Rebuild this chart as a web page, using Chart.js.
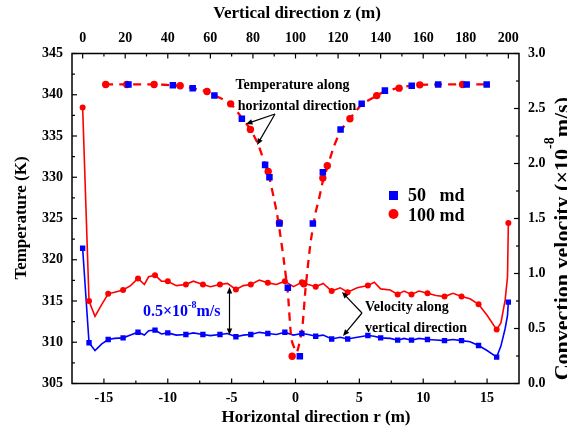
<!DOCTYPE html>
<html>
<head>
<meta charset="utf-8">
<script src="https://cdn.jsdelivr.net/npm/chart.js@4.4.0/dist/chart.umd.min.js"></script>
<style>
  html, body { margin: 0; padding: 0; background: #fff; }
  canvas { display: block; }
</style>
</head>
<body>
<canvas id="chart" width="567" height="433"></canvas>
<script>
// temperature along the horizontal direction (bottom / left axes)
const rTemp100 = [-14.86, -13.21, -11.07, -9.03, -6.93, -5.08, -3.53, -2.14, -1.26, -0.26, 0.65, 2.14, 2.49, 4.26, 6.36, 8.11, 9.73, 13.08];
const tTemp100 = [341.25, 341.25, 341.25, 341.1, 340.4, 338.9, 335.8, 330.7, 324.5, 308.3, 317.1, 329.9, 331.4, 337.1, 339.9, 340.8, 341.2, 341.25];
const rTemp50 = [-13.08, -9.6, -8.05, -6.35, -4.2, -2.38, -2.04, -1.26, -0.6, 0.34, 1.36, 2.14, 3.53, 5.18, 7.0, 9.1, 11.17, 13.4, 14.97];
const tTemp50 = [341.25, 341.15, 340.8, 339.9, 337.1, 331.5, 330.0, 324.4, 316.6, 308.3, 324.4, 330.6, 335.8, 338.9, 340.5, 341.1, 341.25, 341.25, 341.25];

// dashed temperature profile
const rCurve = [-14.9, -13, -11, -9.6, -8.5, -8.05, -6.93, -6.35, -5.08, -4.2, -3.53, -2.9, -2.4, -2.1, -1.7, -1.44, -1.18, -0.92, -0.6, -0.31, 0.1, 0.53, 0.78, 1.18, 1.57, 1.83, 2.14, 2.49, 3.0, 3.53, 4.26, 5.18, 6.36, 7.0, 8.11, 9.1, 9.73, 11.2, 13, 15];
const tCurve = [341.25, 341.25, 341.25, 341.15, 340.95, 340.8, 340.4, 339.95, 338.9, 337.2, 335.8, 333.9, 331.6, 330.3, 327.5, 325.5, 322.9, 320.0, 316.0, 310.3, 308.8, 311.8, 316.4, 322.1, 325.7, 327.3, 329.5, 331.2, 333.7, 335.6, 337.1, 338.8, 339.9, 340.4, 340.85, 341.1, 341.2, 341.25, 341.25, 341.25];

// convection velocity along the vertical direction (top / right axes)
const zLine = [0, 3, 5.8, 9, 12, 15, 19, 22.5, 26, 29, 31, 34, 37, 40, 44, 48.5, 52, 56.5, 60, 64.5, 68, 72, 75.5, 79, 83, 87, 91, 95, 99, 103, 106, 109.5, 113, 117, 121, 124.5, 129, 134, 137, 140, 144.5, 148, 151, 154.5, 158, 162, 166, 170, 174, 178, 182, 186, 190, 194.5, 196.5, 198.5, 199.6, 200];
const vLine100 = [2.51, 0.75, 0.61, 0.72, 0.815, 0.83, 0.85, 0.89, 0.955, 0.9, 0.97, 0.985, 0.93, 0.93, 0.89, 0.9, 0.93, 0.9, 0.88, 0.9, 0.91, 0.855, 0.89, 0.9, 0.94, 0.915, 0.9, 0.93, 0.88, 0.92, 0.9, 0.88, 0.91, 0.84, 0.87, 0.83, 0.87, 0.89, 0.92, 0.86, 0.85, 0.81, 0.84, 0.81, 0.84, 0.82, 0.8, 0.79, 0.82, 0.79, 0.77, 0.72, 0.62, 0.49, 0.55, 0.76, 0.97, 1.46];
const vLine50 = [1.23, 0.37, 0.3, 0.36, 0.4, 0.41, 0.415, 0.44, 0.466, 0.44, 0.48, 0.485, 0.45, 0.46, 0.44, 0.445, 0.46, 0.445, 0.435, 0.445, 0.455, 0.425, 0.44, 0.445, 0.465, 0.455, 0.445, 0.466, 0.44, 0.455, 0.445, 0.43, 0.44, 0.405, 0.42, 0.405, 0.42, 0.436, 0.43, 0.415, 0.41, 0.394, 0.41, 0.394, 0.41, 0.4, 0.395, 0.39, 0.4, 0.39, 0.38, 0.345, 0.3, 0.24, 0.34, 0.5, 0.62, 0.74];

const zMark100 = [0, 3, 12, 19, 26, 34, 40, 48.5, 56.5, 64.5, 72, 79, 87, 95, 103, 109.5, 117, 124.5, 134, 148, 154.5, 162, 170, 178, 186, 194.5, 200];
const vMark100 = [2.51, 0.75, 0.815, 0.85, 0.955, 0.985, 0.93, 0.9, 0.9, 0.9, 0.855, 0.9, 0.915, 0.93, 0.92, 0.88, 0.84, 0.83, 0.89, 0.81, 0.81, 0.82, 0.79, 0.79, 0.72, 0.49, 1.46];
const zMark50 = [0, 3, 12, 19, 26, 34, 40, 48.5, 56.5, 64.5, 72, 79, 87, 95, 103, 109.5, 117, 124.5, 134, 140, 148, 154.5, 162, 170, 178, 186, 194.5, 200];
const vMark50 = [1.23, 0.37, 0.4, 0.415, 0.466, 0.485, 0.46, 0.445, 0.445, 0.445, 0.425, 0.445, 0.455, 0.466, 0.455, 0.43, 0.405, 0.405, 0.436, 0.415, 0.394, 0.394, 0.4, 0.39, 0.39, 0.345, 0.24, 0.74];

// tick labels
const rTicks = [-15, -10, -5, 0, 5, 10, 15];
const zTicks = [0, 20, 40, 60, 80, 100, 120, 140, 160, 180, 200];
const tTicks = [305, 310, 315, 320, 325, 330, 335, 340, 345];
const vTicks = [0, 0.5, 1.0, 1.5, 2.0, 2.5, 3.0];

const RED = 'rgb(255,0,0)';
const BLUE = 'rgb(0,0,255)';
const SERIF = '"Liberation Serif", "Times New Roman", serif';

const pts = (xs, ys) => xs.map((x, i) => ({ x: x, y: ys[i] }));

function axis(position, min, max, ticks, size, pad, fmt) {
  const horiz = position === 'top' || position === 'bottom';
  return {
    type: 'linear',
    axis: horiz ? 'x' : 'y',
    position: position,
    min: min,
    max: max,
    grid: { display: false, drawTicks: false },
    border: { display: false },
    afterBuildTicks: s => { s.ticks = ticks.map(v => ({ value: v })); },
    afterFit: s => { if (horiz) s.height = size; else s.width = size; },
    ticks: {
      padding: pad,
      color: '#000',
      font: { family: SERIF, size: 14, weight: 'bold' },
      callback: fmt || (v => v)
    }
  };
}

function arrow(ctx, x1, y1, x2, y2, head) {
  const a = Math.atan2(y2 - y1, x2 - x1);
  ctx.beginPath();
  ctx.moveTo(x1, y1);
  ctx.lineTo(x2 - Math.cos(a) * head * 0.8, y2 - Math.sin(a) * head * 0.8);
  ctx.stroke();
  ctx.beginPath();
  ctx.moveTo(x2, y2);
  ctx.lineTo(x2 - head * Math.cos(a - 0.4), y2 - head * Math.sin(a - 0.4));
  ctx.lineTo(x2 - head * Math.cos(a + 0.4), y2 - head * Math.sin(a + 0.4));
  ctx.closePath();
  ctx.fill();
}

// text with a raised "-8" exponent between two parts
function powText(ctx, pre, exp, post, x, y, size) {
  ctx.font = `bold ${size}px ${SERIF}`;
  ctx.fillText(pre, x, y);
  let w = ctx.measureText(pre).width;
  ctx.font = `bold ${Math.round(size * 0.62)}px ${SERIF}`;
  ctx.fillText(exp, x + w, y - size * 0.38);
  w += ctx.measureText(exp).width;
  ctx.font = `bold ${size}px ${SERIF}`;
  ctx.fillText(post, x + w, y);
  return w + ctx.measureText(post).width;
}

const frame = {
  id: 'frame',
  afterDraw(chart) {
    const { ctx, chartArea: a, scales } = chart;
    ctx.save();
    ctx.strokeStyle = '#000';
    ctx.fillStyle = '#000';
    ctx.lineWidth = 1.5;
    ctx.strokeRect(a.left, a.top, a.right - a.left, a.bottom - a.top);

    // inward tick marks, minors halfway between majors
    ctx.lineWidth = 1.2;
    const marks = (scale, vals, edge, dir, horiz) => {
      const all = [];
      vals.forEach((v, i) => {
        all.push([v, 5]);
        if (i < vals.length - 1) all.push([(v + vals[i + 1]) / 2, 3]);
      });
      all.forEach(([v, len]) => {
        const p = scale.getPixelForValue(v);
        ctx.beginPath();
        if (horiz) { ctx.moveTo(p, edge); ctx.lineTo(p, edge + dir * len); }
        else { ctx.moveTo(edge, p); ctx.lineTo(edge + dir * len, p); }
        ctx.stroke();
      });
    };
    marks(scales.xr, rTicks, a.bottom, -1, true);
    marks(scales.xz, zTicks, a.top, 1, true);
    marks(scales.yt, tTicks, a.left, 1, false);
    marks(scales.yv, vTicks, a.right, -1, false);

    // axis titles
    ctx.textAlign = 'center';
    ctx.textBaseline = 'middle';
    ctx.font = `bold 17px ${SERIF}`;
    ctx.fillText('Vertical direction z (m)', 297, 14);
    ctx.fillText('Horizontal direction r (m)', 316, 418);
    ctx.save();
    ctx.translate(22, 218);
    ctx.rotate(-Math.PI / 2);
    ctx.fillText('Temperature (K)', 0, 0);
    ctx.restore();
    ctx.save();
    ctx.translate(552, 240);
    ctx.rotate(-Math.PI / 2);
    ctx.textAlign = 'left';
    ctx.textBaseline = 'top';
    ctx.font = `bold 22px ${SERIF}`;
    const full = ctx.measureText('Convection velocity (×10m/s)').width + 9;
    powText(ctx, 'Convection velocity (×10', '-8', 'm/s)', -full / 2, 0, 22);
    ctx.restore();

    // legend
    ctx.textAlign = 'left';
    ctx.textBaseline = 'middle';
    ctx.font = `bold 18px ${SERIF}`;
    ctx.fillStyle = BLUE;
    ctx.fillRect(389, 191, 9, 9);
    ctx.fillStyle = RED;
    ctx.beginPath();
    ctx.arc(393.5, 214, 5, 0, Math.PI * 2);
    ctx.fill();
    ctx.fillStyle = '#000';
    ctx.fillText('50   md', 408, 196);
    ctx.fillText('100 md', 408, 216);

    // annotations
    ctx.font = `bold 14px ${SERIF}`;
    ctx.textAlign = 'center';
    ctx.fillText('Temperature along', 292.5, 85);
    ctx.fillText('horizontal direction', 297, 106);
    ctx.textAlign = 'left';
    ctx.fillText('Velocity along', 365, 307);
    ctx.fillText('vertical direction', 365, 328);

    ctx.lineWidth = 1.2;
    arrow(ctx, 275, 114, 246, 124, 7);
    arrow(ctx, 275, 114, 257, 145, 7);
    arrow(ctx, 362, 313, 342, 292, 7);
    arrow(ctx, 362, 313, 343, 336, 7);
    arrow(ctx, 229.5, 311, 229.5, 287, 7);
    arrow(ctx, 229.5, 311, 229.5, 335, 7);

    ctx.fillStyle = BLUE;
    powText(ctx, '0.5×10', '-8', 'm/s', 143, 312, 16);
    ctx.restore();
  }
};

new Chart(document.getElementById('chart').getContext('2d'), {
  type: 'scatter',
  data: {
    datasets: [
      { label: '50 md', data: pts(rTemp50, tTemp50), xAxisID: 'xr', yAxisID: 'yt', showLine: false,
        pointStyle: 'rect', pointRadius: 4.6, backgroundColor: BLUE, borderColor: BLUE, borderWidth: 0, order: 0 },
      { label: '100 md', data: pts(rTemp100, tTemp100), xAxisID: 'xr', yAxisID: 'yt', showLine: false,
        pointStyle: 'circle', pointRadius: 3.7, backgroundColor: RED, borderColor: RED, borderWidth: 0, order: 0 },
      { label: 'temperature', data: pts(rCurve, tCurve), xAxisID: 'xr', yAxisID: 'yt', showLine: true,
        pointRadius: 0, borderColor: RED, borderWidth: 2.3, borderDash: [8, 6], tension: 0.2, order: 1 },
      { label: '50 md v', data: pts(zMark50, vMark50), xAxisID: 'xz', yAxisID: 'yv', showLine: false,
        pointStyle: 'rect', pointRadius: 3.8, backgroundColor: BLUE, borderColor: BLUE, borderWidth: 0, order: 0 },
      { label: '100 md v', data: pts(zMark100, vMark100), xAxisID: 'xz', yAxisID: 'yv', showLine: false,
        pointStyle: 'circle', pointRadius: 3, backgroundColor: RED, borderColor: RED, borderWidth: 0, order: 0 },
      { label: '50 md line', data: pts(zLine, vLine50), xAxisID: 'xz', yAxisID: 'yv', showLine: true,
        pointRadius: 0, borderColor: BLUE, borderWidth: 1.6, order: 2 },
      { label: '100 md line', data: pts(zLine, vLine100), xAxisID: 'xz', yAxisID: 'yv', showLine: true,
        pointRadius: 0, borderColor: RED, borderWidth: 1.6, order: 2 }
    ]
  },
  options: {
    responsive: false,
    animation: false,
    layout: { padding: 0 },
    plugins: { legend: { display: false }, tooltip: { enabled: false } },
    scales: {
      xr: axis('bottom', -17.5, 17.5, rTicks, 49.5, 6),
      xz: axis('top', -5, 205, zTicks, 53.5, 7),
      yt: axis('left', 305, 345, tTicks, 72, 9),
      yv: axis('right', 0, 3, vTicks, 48, 9, v => v.toFixed(1))
    }
  },
  plugins: [frame]
});
</script>
</body>
</html>
